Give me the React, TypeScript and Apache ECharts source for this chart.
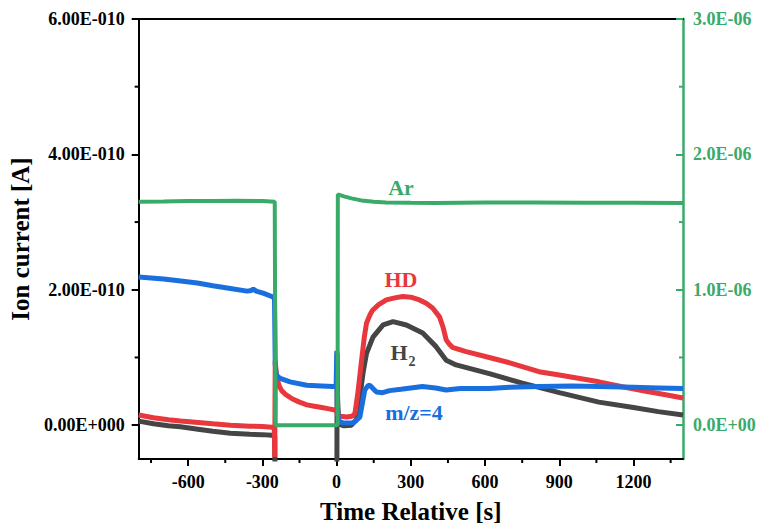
import React, { useEffect, useRef } from "react";
import * as echarts from "echarts";

// Time axis (s)
const timeMin = -800;
const timeMax = 1400;
const timeMajorTicks = [-600, -300, 0, 300, 600, 900, 1200];
const timeMinorTicks = [-750, -450, -150, 150, 450, 750, 1050, 1350];

// Left axis: ion current in units of 1e-10 A
const currentMin = -0.5;
const currentMax = 6;
const currentMajorTicks = [0, 2, 4, 6];
const currentMinorTicks = [1, 3, 5];

// Right axis: Ar ion current in units of 1e-6 A
const arMin = -0.25;
const arMax = 3;
const arMajorTicks = [0, 1, 2, 3];
const arMinorTicks = [0.5, 1.5, 2.5];

// H2 signal [t (s), current (1e-10 A)]
const h2Points: [number, number][] = [
  [-800, 0.06], [-740, 0.02], [-680, -0.01], [-631, -0.025], [-560, -0.06],
  [-500, -0.09], [-429, -0.12], [-350, -0.135], [-300, -0.14], [-262, -0.15],
  [-250, -0.16], [-248, -1.2], [1, -1.2], [2, 1.06], [4, 0.4], [8, 0.02],
  [30, -0.01], [60, 0.0], [80, 0.08], [94, 0.42], [108, 0.8], [121, 1.06],
  [147, 1.3], [188, 1.48], [228, 1.53], [282, 1.48], [348, 1.36], [402, 1.16],
  [443, 0.96], [483, 0.89], [617, 0.76], [751, 0.62], [900, 0.48], [1060, 0.34],
  [1200, 0.26], [1300, 0.2], [1400, 0.15],
];

// HD signal [t (s), current (1e-10 A)]
const hdPoints: [number, number][] = [
  [-800, 0.15], [-740, 0.11], [-680, 0.08], [-631, 0.06], [-560, 0.04],
  [-500, 0.02], [-429, 0.0], [-350, -0.015], [-300, -0.02], [-262, -0.03],
  [-252, -0.03], [-250, -0.47], [-248, 0.95], [-245, 0.8], [-240, 0.68],
  [-232, 0.58], [-222, 0.51], [-205, 0.45], [-180, 0.39], [-150, 0.34],
  [-120, 0.3], [-90, 0.28], [-60, 0.26], [-30, 0.24], [-2, 0.22], [4, 0.16],
  [15, 0.13], [40, 0.12], [62, 0.13], [74, 0.17], [85, 0.45], [101, 0.96],
  [112, 1.3], [121, 1.51], [135, 1.63], [146, 1.7], [170, 1.78], [201, 1.85],
  [235, 1.88], [267, 1.9], [300, 1.89], [335, 1.85], [362, 1.8], [388, 1.73],
  [416, 1.6], [430, 1.45], [443, 1.26], [455, 1.2], [468, 1.15], [520, 1.09],
  [617, 1.0], [700, 0.92], [818, 0.79], [900, 0.74], [1060, 0.64], [1150, 0.57],
  [1250, 0.5], [1330, 0.45], [1400, 0.4],
];

// m/z = 4 signal [t (s), current (1e-10 A)]
const mz4Points: [number, number][] = [
  [-800, 2.19], [-699, 2.16], [-630, 2.13], [-563, 2.1], [-500, 2.06],
  [-429, 2.02], [-362, 1.98], [-345, 1.99], [-337, 2.01], [-325, 1.98],
  [-297, 1.95], [-262, 1.9], [-251, 1.88], [-248, 0.9], [-244, 0.74],
  [-228, 0.69], [-188, 0.64], [-121, 0.59], [-60, 0.58], [-15, 0.57],
  [-2, 0.57], [1, 1.1], [3, 0.3], [8, 0.06], [27, 0.03], [66, 0.03],
  [94, 0.12], [108, 0.4], [114, 0.52], [126, 0.58], [134, 0.59], [150, 0.53],
  [161, 0.49], [186, 0.48], [214, 0.51], [260, 0.53], [347, 0.57], [400, 0.55],
  [443, 0.52], [500, 0.54], [617, 0.54], [700, 0.56], [818, 0.57], [950, 0.58],
  [1060, 0.57], [1200, 0.56], [1300, 0.55], [1400, 0.54],
];

// Ar signal [t (s), current (1e-6 A)]
const arPoints: [number, number][] = [
  [-800, 1.65], [-700, 1.652], [-600, 1.655], [-500, 1.655], [-400, 1.657],
  [-300, 1.655], [-250, 1.65], [-247, 0], [4, 0], [5, 1.705], [30, 1.69],
  [60, 1.675], [100, 1.66], [150, 1.65], [200, 1.645], [300, 1.642],
  [400, 1.64], [500, 1.643], [600, 1.645], [800, 1.645], [1000, 1.643],
  [1200, 1.642], [1400, 1.64],
];

const SERIF = "'Liberation Serif', 'Times New Roman', serif";
const GREEN = "#3aaa68";
const RED = "#e8383d";
const BLUE = "#1a6fdf";
const GREY = "#454545";

// Scientific notation as "6.00E-010" / "3.0E-06"
function sci(x: number, digits: number, expDigits: number): string {
  let exp = 0;
  let m = 0;
  if (x !== 0) {
    exp = Math.floor(Math.log10(Math.abs(x)));
    m = x / Math.pow(10, exp);
    if (Math.abs(parseFloat(m.toFixed(digits))) >= 10) {
      exp += 1;
      m = x / Math.pow(10, exp);
    }
  }
  const sign = exp < 0 ? "-" : "+";
  return `${m.toFixed(digits)}E${sign}${String(Math.abs(exp)).padStart(expDigits, "0")}`;
}

// Short minor tick marks, placed through the axes' own scales.
// (dx, dy) is the tick's direction and length from the axis line.
function minorTicks(
  points: [number, number][],
  yAxisIndex: number,
  dx: number,
  dy: number,
  color: string
) {
  return {
    type: "custom",
    xAxisIndex: 0,
    yAxisIndex,
    clip: false,
    silent: true,
    z: 10,
    data: points,
    renderItem: (_params: any, api: any) => {
      const p = api.coord([api.value(0), api.value(1)]);
      return {
        type: "line",
        shape: { x1: p[0], y1: p[1], x2: p[0] + dx, y2: p[1] + dy },
        style: { stroke: color, lineWidth: 2 },
      };
    },
  };
}

export default function App() {
  const ref = useRef<HTMLDivElement>(null);

  useEffect(() => {
    if (!ref.current) return;
    const chart = echarts.init(ref.current, null, { renderer: "svg" });

    const tickFont = { fontFamily: SERIF, fontWeight: "bold" as const, fontSize: 18 };
    const titleFont = { fontFamily: SERIF, fontWeight: "bold" as const, fontSize: 25, color: "#000" };

    chart.setOption({
      animation: false,
      backgroundColor: "#ffffff",
      grid: { left: 137, right: 78, top: 19, bottom: 69, containLabel: false },
      xAxis: [
        {
          type: "value",
          min: timeMin,
          max: timeMax,
          position: "bottom",
          axisLine: { show: true, onZero: false, lineStyle: { color: "#000", width: 2 } },
          axisTick: { show: true, customValues: timeMajorTicks, length: 7, lineStyle: { color: "#000", width: 2 } },
          axisLabel: {
            show: true,
            customValues: timeMajorTicks,
            margin: 14,
            color: "#000",
            ...tickFont,
            formatter: (v: number) => String(v),
          },
          splitLine: { show: false },
          name: "Time Relative [s]",
          nameLocation: "middle",
          nameGap: 40,
          nameTextStyle: titleFont,
        },
        {
          type: "value",
          min: timeMin,
          max: timeMax,
          position: "top",
          axisLine: { show: true, onZero: false, lineStyle: { color: "#000", width: 2 } },
          axisTick: { show: false },
          axisLabel: { show: false },
          splitLine: { show: false },
        },
      ],
      yAxis: [
        {
          type: "value",
          min: currentMin,
          max: currentMax,
          position: "left",
          axisLine: { show: true, onZero: false, lineStyle: { color: "#000", width: 2 } },
          axisTick: { show: true, customValues: currentMajorTicks, length: 7, lineStyle: { color: "#000", width: 2 } },
          axisLabel: {
            show: true,
            customValues: currentMajorTicks,
            margin: 14,
            color: "#000",
            ...tickFont,
            formatter: (v: number) => sci(v * 1e-10, 2, 3),
          },
          splitLine: { show: false },
          name: "Ion current [A]",
          nameLocation: "middle",
          nameGap: 104,
          nameTextStyle: titleFont,
        },
        {
          type: "value",
          min: arMin,
          max: arMax,
          position: "right",
          axisLine: { show: true, onZero: false, lineStyle: { color: GREEN, width: 2.5 } },
          axisTick: { show: true, inside: true, customValues: arMajorTicks, length: 7, lineStyle: { color: GREEN, width: 2 } },
          axisLabel: {
            show: true,
            customValues: arMajorTicks,
            margin: 10,
            color: GREEN,
            ...tickFont,
            formatter: (v: number) => sci(v * 1e-6, 1, 2),
          },
          splitLine: { show: false },
        },
      ],
      series: [
        {
          name: "H2",
          type: "line",
          xAxisIndex: 0,
          yAxisIndex: 0,
          data: h2Points,
          showSymbol: false,
          symbol: "none",
          clip: true,
          lineStyle: { color: GREY, width: 5 },
          z: 2,
        },
        {
          name: "HD",
          type: "line",
          xAxisIndex: 0,
          yAxisIndex: 0,
          data: hdPoints,
          showSymbol: false,
          symbol: "none",
          clip: true,
          lineStyle: { color: RED, width: 5 },
          z: 3,
        },
        {
          name: "m/z=4",
          type: "line",
          xAxisIndex: 0,
          yAxisIndex: 0,
          data: mz4Points,
          showSymbol: false,
          symbol: "none",
          clip: true,
          lineStyle: { color: BLUE, width: 5 },
          z: 4,
        },
        {
          name: "Ar",
          type: "line",
          xAxisIndex: 0,
          yAxisIndex: 1,
          data: arPoints,
          showSymbol: false,
          symbol: "none",
          clip: true,
          lineStyle: { color: GREEN, width: 4 },
          z: 5,
        },
        // minor ticks: below the time axis, left of the current axis, inside the Ar axis
        minorTicks(timeMinorTicks.map((t) => [t, currentMin] as [number, number]), 0, 0, 4, "#000"),
        minorTicks(currentMinorTicks.map((v) => [timeMin, v] as [number, number]), 0, -4, 0, "#000"),
        minorTicks(arMinorTicks.map((v) => [timeMax, v] as [number, number]), 1, -4, 0, GREEN),
      ],
      graphic: [
        {
          type: "text",
          x: 401,
          y: 187,
          style: { text: "Ar", fill: GREEN, font: `bold 22px ${SERIF}`, align: "center", verticalAlign: "middle" },
        },
        {
          type: "text",
          x: 401,
          y: 279,
          style: { text: "HD", fill: RED, font: `bold 22px ${SERIF}`, align: "center", verticalAlign: "middle" },
        },
        {
          type: "text",
          x: 399,
          y: 352,
          style: { text: "H", fill: GREY, font: `bold 22px ${SERIF}`, align: "center", verticalAlign: "middle" },
        },
        {
          type: "text",
          x: 412,
          y: 361,
          style: { text: "2", fill: GREY, font: `bold 14px ${SERIF}`, align: "center", verticalAlign: "middle" },
        },
        {
          type: "text",
          x: 414,
          y: 412,
          style: { text: "m/z=4", fill: BLUE, font: `bold 22px ${SERIF}`, align: "center", verticalAlign: "middle" },
        },
      ],
    });

    return () => chart.dispose();
  }, []);

  return (
    <div
      ref={ref}
      style={{ position: "fixed", left: 0, top: 0, width: 761, height: 529, background: "#fff" }}
    />
  );
}
